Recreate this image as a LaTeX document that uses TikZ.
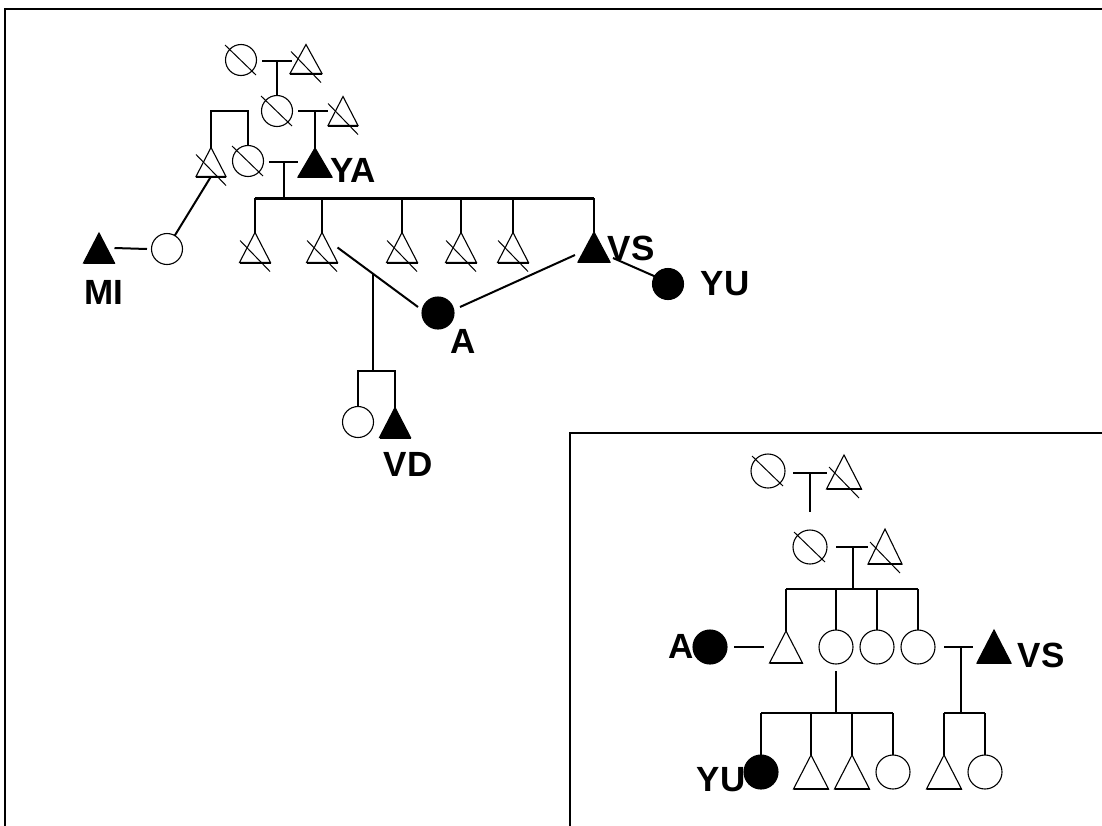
\documentclass[tikz,border=0pt]{standalone}
\usepackage{fontspec}
\setmainfont{Liberation Sans}
\usetikzlibrary{calc}
\tikzset{
  shp/.style={line width=1.1pt},
  basel/.style={line width=2pt},
  slash/.style={line width=1pt},
  conn/.style={line width=2pt},
  sibl/.style={line width=3pt},
  lab/.style={font=\bfseries\fontsize{35}{35}\selectfont, inner sep=0, outer sep=0},
  framel/.style={line width=2.5pt},
  filled/.style={fill=black},
}
\newcommand\pcirc[5]{\node[shp, circle, draw, inner sep=0, outer sep=0, minimum size=#4pt, #5] (#1) at (#2,#3) {};}
\newcommand\ptri[6]{%
  \node[inner sep=0, outer sep=0, rectangle, minimum width=#4pt, minimum height=#5pt] (#1) at (#2,#3) {};
  \draw[shp,#6] (#1.south west) -- (#1.north) -- (#1.south east) -- cycle;
  \draw[basel] (#1.south west) -- (#1.south east);}
\newcommand\deadc[1]{\draw[slash] ($(#1.center)+(-16,-15)$) -- ($(#1.center)+(15,15)$);}
\newcommand\deadt[1]{\draw[slash] ($(#1.south)+(-15,-22)$) -- ($(#1.south)+(15,9)$);}
\begin{document}
\begin{tikzpicture}[x=1pt,y=-1pt]
\useasboundingbox (0,0) rectangle (1102,825);
% frames
\draw[framel] (5,830) -- (5,9) -- (1110,9);
\draw[framel] (570,830) -- (570,433) -- (1110,433);

% ===== main pedigree =====
\pcirc{g1f}{241}{60}{31}{} \deadc{g1f}
\ptri{g1m}{306}{59}{32}{29}{} \deadt{g1m}
\pcirc{g2f}{277}{111}{31}{} \deadc{g2f}
\ptri{g2m}{343}{111}{30}{29}{} \deadt{g2m}
\ptri{YA}{315}{162.5}{34}{29}{filled}
\pcirc{g3f}{248}{161}{31}{} \deadc{g3f}
\ptri{g3m}{211}{162}{30}{29}{} \deadt{g3m}
\ptri{MI}{99}{248}{31}{30}{filled}
\pcirc{MIw}{167}{249}{31}{}
\ptri{c1}{255}{247.5}{31}{30}{} \deadt{c1}
\ptri{c2}{322}{247.5}{31}{30}{} \deadt{c2}
\ptri{c3}{402}{247.5}{31}{30}{} \deadt{c3}
\ptri{c4}{461}{247.5}{31}{30}{} \deadt{c4}
\ptri{c5}{513}{247.5}{31}{30}{} \deadt{c5}
\ptri{VS}{594}{247}{32}{30}{filled}
\pcirc{YU}{668}{284}{31}{filled}
\pcirc{A}{438}{313}{32}{filled}
\pcirc{VDs}{358}{422}{31}{}
\ptri{VD}{395}{422.5}{31}{30}{filled}

\coordinate (m1l) at (262,61); \coordinate (m1r) at (292,61); \coordinate (m1) at (277,61);
\draw[conn] (m1l) -- (m1r); \draw[conn] (m1) -- (g2f.north);
\coordinate (m2l) at (298,111); \coordinate (m2r) at (328,111); \coordinate (m2) at (315,111);
\draw[conn] (m2l) -- (m2r); \draw[conn] (m2) -- (YA.north);
\coordinate (s0) at (230,111);
\draw[conn] (g3m.north) |- (s0) -| (g3f.north);
\coordinate (m3l) at (269,162); \coordinate (m3r) at (298,162); \coordinate (m3) at (284,162);
\coordinate (s1) at (284,198);
\draw[conn] (m3l) -- (m3r); \draw[conn] (m3) -- (s1);
\draw[sibl] (c1.north |- s1) -- (VS.north |- s1);
\foreach \n in {c1,c2,c3,c4,c5,VS} \draw[conn] (\n.north |- s1) -- (\n.north);
\coordinate (miR) at (147,249);
\draw[conn] (MI.east) -- (miR);
\draw[conn] (MIw.60) -- (g3m.south);
\coordinate (aL) at (418,307); \coordinate (aR) at (460,307); \coordinate (vsL) at (575,255);
\draw[conn] (c2.east) -- (aL);
\draw[conn] (aR) -- (vsL);
\coordinate (m4) at (373,274); \coordinate (s2) at (373,371);
\draw[conn] (m4) -- (s2);
\draw[conn] (VDs.north) |- (s2) -| (VD.north);
\coordinate (vsR) at (613,258);
\draw[conn] (vsR) -- (YU.150);

\node[lab] (lYA) at (353,170) {YA};
\node[lab] (lMI) at (104,292) {MI};
\node[lab] (lA) at (463,341) {A};
\node[lab] (lVS) at (631,248) {VS};
\node[lab] (lYU) at (725,284) {YU};
\node[lab] (lVD) at (408,464) {VD};

% ===== inset pedigree =====
\pcirc{i1f}{768}{471}{34}{} \deadc{i1f}
\ptri{i1m}{844}{472}{35}{34}{} \deadt{i1m}
\pcirc{i2f}{810}{547}{34}{} \deadc{i2f}
\ptri{i2m}{885}{546.5}{34}{35}{} \deadt{i2m}
\ptri{i3}{786}{647}{33}{32}{}
\pcirc{k1}{836}{647}{34}{}
\pcirc{k2}{877}{647}{34}{}
\pcirc{k3}{918}{647}{34}{}
\pcirc{iA}{710}{647}{34}{filled}
\ptri{iVS}{994}{646.5}{34}{33}{filled}
\pcirc{iYU}{761}{772}{34}{filled}
\ptri{l2}{811}{772}{35}{34}{}
\ptri{l3}{852}{772}{35}{34}{}
\pcirc{l4}{893}{772}{34}{}
\ptri{l5}{944}{772}{35}{34}{}
\pcirc{l6}{985}{772}{34}{}

\coordinate (n1l) at (793,473); \coordinate (n1r) at (827,473); \coordinate (n1) at (810,473);
\coordinate (n1e) at (810,512);
\draw[conn] (n1l) -- (n1r); \draw[conn] (n1) -- (n1e);
\coordinate (n2l) at (836,547); \coordinate (n2r) at (868,547); \coordinate (n2) at (853,547);
\coordinate (t1) at (853,589);
\draw[conn] (n2l) -- (n2r); \draw[conn] (n2) -- (t1);
\draw[conn] (i3.north |- t1) -- (k3.north |- t1);
\foreach \n in {i3,k1,k2,k3} \draw[conn] (\n.north |- t1) -- (\n.north);
\coordinate (iaR) at (734,647); \coordinate (i3L) at (764,647);
\draw[conn] (iaR) -- (i3L);
\coordinate (n3l) at (944,647); \coordinate (n3r) at (973,647); \coordinate (n3) at (961,647);
\coordinate (t3) at (961,713);
\draw[conn] (n3l) -- (n3r); \draw[conn] (n3) -- (t3);
\draw[conn] (l5.north |- t3) -- (l6.north |- t3);
\foreach \n in {l5,l6} \draw[conn] (\n.north |- t3) -- (\n.north);
\coordinate (k1d) at (836,671); \coordinate (t2) at (836,713);
\draw[conn] (k1d) -- (t2);
\draw[conn] (iYU.north |- t2) -- (l4.north |- t2);
\foreach \n in {iYU,l2,l3,l4} \draw[conn] (\n.north |- t2) -- (\n.north);

\node[lab] (ilA) at (681,646) {A};
\node[lab] (ilVS) at (1041,655) {VS};
\node[lab] (ilYU) at (721,780) {YU};
\end{tikzpicture}
\end{document}
